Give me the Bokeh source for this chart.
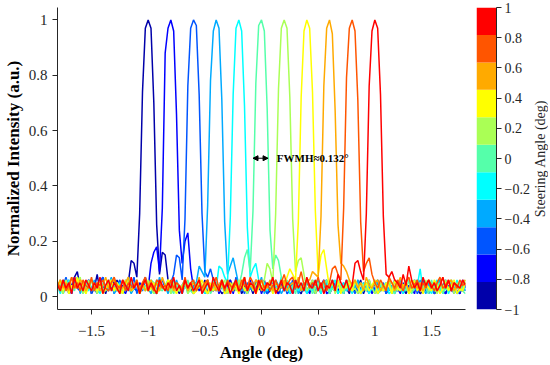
import numpy as np
from bokeh.plotting import figure
from bokeh.layouts import row
from bokeh.models import FixedTicker, Arrow, NormalHead, Label, CustomJSTickFormatter
from bokeh.embed import file_html
from bokeh.resources import INLINE

# steering angles (deg) and jet(11) colours
angles = [-1.0, -0.8, -0.6, -0.4, -0.2, 0.0, 0.2, 0.4, 0.6, 0.8, 1.0]
colors = ["#0000AA", "#0000FF", "#0055FF", "#00AAFF", "#00FFFF", "#55FFAA",
          "#AAFF55", "#FFFF00", "#FFAA00", "#FF5500", "#FF0000"]
step = 0.025  # angular sample spacing (deg)

# measured normalized intensity (x100), sampled every 0.025 deg
i_m10 = [3,6,2,5,1,4,7,9,3,5,2,6,1,3,8,2,4,1,5,3,2,6,2,4,3,
         5,13,12,7,30,74,97,100,97,70,26,8,16,15,6,
         2,5,3,1,4,6,2,3,1,5,3,2,6,1,4,2,5,3,1,2,4,6,2,3,5,1,3,2,4,1,
         5,3,2,6,1,2,4,3,1,5,2,4,1,3,6,2,1,4,3,2,5,1,3,2,4,6,1,3,2,5,
         2,4,3,1,5,2,3,6,1,4,3,2,5,1,3,4,2,6,1,3,2,5,3,1,4,2,6,3,1,2,
         4,3,5,1,2,6,3,1,4,2,3,5,1,4,2]
i_m08 = [4,2,6,3,5,1,7,3,2,5,4,6,2,3,1,5,7,2,4,3,6,2,5,3,1,4,6,3,2,5,4,7,3,
         12,16,18,9,32,88,97,100,96,66,24,12,20,23,10,
         3,5,2,4,1,6,3,2,5,1,4,3,2,6,1,5,2,3,4,1,6,2,3,5,1,4,2,3,6,2,
         1,5,3,2,4,1,3,6,2,4,3,1,5,2,3,4,6,1,2,5,3,2,4,1,6,3,2,5,1,3,
         4,2,6,1,3,5,2,4,1,3,2,6,3,1,5,2,4,3,1,6,2,3,5,1,4,2,3,6,2,1,
         4,3,5,2,1,6,3]
i_m06 = [5,2,4,7,3,1,5,6,2,4,3,6,1,5,2,4,7,3,2,5,1,4,6,3,2,5,3,7,1,4,
         2,6,3,5,2,1,4,6,3,2,5,
         8,15,14,6,28,76,97,100,98,73,30,9,7,10,6,
         2,4,6,3,1,5,2,7,3,4,1,5,3,2,6,4,2,5,1,3,6,2,4,3,5,1,2,6,3,4,
         2,5,1,3,6,2,4,1,5,3,2,6,4,1,3,5,2,4,3,1,6,2,5,3,1,4,2,6,3,5,
         1,3,4,2,5,6,1,3,2,4,5,1,3,6,2,4,3,1,5,2,4,6,2,3,1,5,3,2,4]
i_m04 = [3,5,1,4,6,2,3,7,1,5,2,4,3,6,1,5,2,3,4,7,1,3,5,2,6,4,1,3,5,2,
         4,6,3,1,5,2,7,3,4,1,5,2,6,3,1,4,2,5,3,
         5,11,9,7,33,78,96,100,97,71,27,8,11,14,9,
         4,2,6,1,3,5,2,4,7,1,3,5,2,6,4,1,3,2,5,4,6,1,3,2,5,3,4,1,6,2,
         3,5,1,4,2,6,3,1,5,2,4,3,6,1,2,5,3,4,1,6,2,3,5,2,4,1,3,6,2,5,
         1,4,3,2,6,3,1,5,4,2,3,6,1,4,2,5,3,1,2,4,5]
i_m02 = [4,1,5,3,6,2,4,7,3,1,5,2,6,4,3,1,5,2,4,6,3,2,5,1,4,7,2,3,6,1,
         4,2,5,3,1,6,2,4,3,5,1,6,3,2,4,5,1,3,6,2,4,3,1,5,2,6,3,
         11,10,7,5,29,73,97,100,96,69,25,7,10,12,6,
         3,5,2,6,1,4,3,7,2,5,1,3,6,2,4,5,1,3,2,6,4,1,5,3,2,4,6,1,3,5,
         2,4,1,6,3,2,5,4,1,3,6,2,4,3,5,1,2,6,3,4,1,5,2,3,6,4,10,2,5,3,
         1,4,6,2,3,5,1,4,2,6,3,5,2]
i_p00 = [2,5,3,6,1,4,2,7,3,5,1,4,6,2,3,5,1,3,4,6,2,5,3,1,4,2,6,3,5,1,
         3,4,2,6,5,1,3,2,4,6,3,1,5,2,4,3,6,2,1,5,3,4,2,6,1,3,5,2,4,1,
         6,3,2,5,4,
         8,14,17,9,31,77,98,100,96,68,24,10,15,13,7,
         3,6,2,4,1,5,3,2,6,4,1,3,5,2,4,6,1,3,2,5,4,1,6,3,2,5,3,1,4,2,
         6,3,5,1,2,4,3,6,2,1,5,3,4,2,6,1,3,5,2,4,3,1,6,2,5,4,1,3,2,6,
         4,3,5,2,1]
i_p02 = [5,3,1,6,2,4,3,5,7,1,3,6,2,4,1,5,3,2,6,4,2,5,1,3,4,6,2,3,5,1,
         4,2,6,3,1,5,2,4,3,6,1,5,3,2,4,6,1,3,5,2,6,4,2,1,3,5,3,2,4,6,
         1,3,5,2,6,4,3,1,5,2,4,6,3,
         6,12,10,5,30,75,97,100,97,72,28,9,13,14,8,
         2,4,6,1,3,5,2,4,3,6,1,5,3,2,4,6,2,3,1,5,4,2,6,3,1,4,5,2,3,6,
         1,4,2,5,3,6,1,2,4,3,5,1,6,2,4,3,1,5,2,6,3,4,1,5,2,3,6]
i_p04 = [3,6,2,5,1,4,3,7,2,5,1,4,6,3,2,5,1,3,4,6,2,5,3,1,6,4,2,3,5,1,
         4,6,2,3,5,1,3,4,2,6,5,3,1,4,2,6,3,5,1,2,4,6,3,1,5,2,4,3,6,1,
         2,5,3,4,1,6,2,3,5,4,1,3,6,2,4,5,1,3,2,6,4,
         7,10,8,6,27,72,96,100,97,74,31,8,15,17,10,
         3,5,2,6,1,4,3,5,2,6,4,1,3,5,2,4,6,1,3,2,5,4,1,6,3,2,4,5,1,3,
         6,2,4,1,5,3,2,6,4,1,3,5,2,4,6,1,3,2,5]
i_p06 = [4,6,3,5,2,7,4,3,6,5,2,4,6,3,5,2,4,7,3,5,6,2,4,3,5,7,2,4,6,3,
         5,2,4,6,3,5,2,7,4,3,6,2,5,4,3,6,2,4,5,3,7,2,4,6,3,5,2,4,6,3,
         5,4,2,6,3,5,7,2,4,3,6,5,2,4,3,6,2,5,4,3,6,2,4,5,3,7,2,4,6,
         6,9,8,7,29,76,97,100,95,67,26,12,11,9,6,
         4,6,3,5,2,7,4,3,5,6,2,4,3,6,5,2,4,7,3,5,2,6,4,3,5,2,4,6,3,5,
         2,4,7,3,5,6,2,4,3,5,6]
i_p08 = [5,3,6,2,4,7,3,5,2,6,4,3,7,2,5,4,6,3,2,5,7,4,3,6,2,5,4,3,6,2,
         5,7,3,4,2,6,5,3,4,2,6,3,5,4,2,7,3,5,6,2,4,3,5,6,2,4,7,3,5,2,
         6,4,3,5,2,6,4,3,7,5,2,4,6,3,5,2,4,6,3,5,8,4,6,7,3,5,9,4,6,3,
         5,4,7,3,6,2,5,
         10,11,8,6,32,79,97,100,96,71,27,9,12,14,8,
         5,3,6,4,2,7,5,3,6,4,2,5,7,3,4,6,2,5,3,6,4,2,5,7,3,4,6,2,5,3,
         6,4,5]
i_p10 = [4,2,6,3,5,1,7,3,5,2,6,4,2,5,3,7,1,4,6,2,5,3,1,6,4,2,7,3,5,1,
         4,6,2,5,3,1,6,4,2,5,3,7,2,4,1,6,3,5,2,4,6,1,3,5,2,7,4,2,6,3,
         5,1,4,6,2,3,7,2,5,4,1,6,3,2,5,4,7,1,3,6,2,5,4,1,6,3,5,2,7,4,
         3,6,2,5,1,4,3,6,2,8,5,3,6,2,4,
         12,13,9,6,30,76,96,100,97,73,29,8,7,9,6,
         5,3,8,4,11,6,3,5,2,7,4,6,3,5,2,4,7,3,6,2,5,4,3,6,4]
series = [i_m10, i_m08, i_m06, i_m04, i_m02, i_p00, i_p02, i_p04, i_p06, i_p08, i_p10]

x_ticks = [-1.5, -1.0, -0.5, 0.0, 0.5, 1.0, 1.5]
y_ticks = [0.0, 0.2, 0.4, 0.6, 0.8, 1.0]
cb_ticks = [-1.0, -0.8, -0.6, -0.4, -0.2, 0.0, 0.2, 0.4, 0.6, 0.8, 1.0]

FONT = "Liberation Serif"
AX = "#262626"
fmt_code = "var s = Math.abs(tick).toString(); return (tick < -1e-9 ? '\u2212' : '') + s;"
TOP = 7
BOTTOM = 45

p = figure(frame_width=408, frame_height=302, x_range=(-1.8, 1.8), y_range=(-0.047, 1.045),
           output_backend="svg", toolbar_location=None,
           min_border_left=51, min_border_right=4, min_border_top=TOP, min_border_bottom=BOTTOM)
p.xgrid.visible = False
p.ygrid.visible = False
p.outline_line_color = None

for ang, col, vals in zip(angles, colors, series):
    v = np.array(vals, dtype=float) / 100.0
    k = int(np.argmax(v))
    x = ang + step * (np.arange(len(v)) - k)
    p.line(x, v, line_color=col, line_width=1.5)

for ax, ticks in ((p.xaxis[0], x_ticks), (p.yaxis[0], y_ticks)):
    ax.ticker = FixedTicker(ticks=ticks)
    ax.formatter = CustomJSTickFormatter(code=fmt_code)
    ax.major_tick_in = 0
    ax.major_tick_out = 5
    ax.minor_tick_out = 0
    ax.minor_tick_in = 0
    ax.axis_line_color = AX
    ax.major_tick_line_color = AX
    ax.major_label_text_font = FONT
    ax.major_label_text_font_size = "15px"
    ax.major_label_text_color = AX
    ax.axis_label_text_font = FONT
    ax.axis_label_text_font_size = "17px"
    ax.axis_label_text_font_style = "bold"
    ax.axis_label_text_color = "#000000"

p.xaxis.axis_label = "Angle (deg)"
p.yaxis.axis_label = "Normalized Intensity (a.u.)"
p.xaxis.major_label_standoff = 11
p.xaxis.axis_label_standoff = 4
p.yaxis.major_label_standoff = 5
p.yaxis.axis_label_standoff = 3

p.add_layout(Arrow(start=NormalHead(size=5, fill_color="black", line_color="black"),
                   end=NormalHead(size=5, fill_color="black", line_color="black"),
                   x_start=-0.075, y_start=0.5, x_end=0.058, y_end=0.5,
                   line_color="black", line_width=1))
p.add_layout(Label(x=0.135, y=0.5, text="FWMH\u22480.132\u00b0", text_font=FONT,
                   text_font_size="11px", text_font_style="bold",
                   text_baseline="middle", text_align="left", text_color="black"))

# colour bar
edges = np.linspace(-1.0, 1.0, len(colors) + 1)
cb = figure(frame_width=20, frame_height=302, x_range=(0, 1), y_range=(-1, 1),
            output_backend="svg", toolbar_location=None, y_axis_location="right",
            min_border_left=7, min_border_right=30, min_border_top=TOP, min_border_bottom=BOTTOM)
cb.quad(left=0, right=1, bottom=edges[:-1], top=edges[1:], fill_color=colors, line_color=None)
cb.xaxis.visible = False
cb.xgrid.visible = False
cb.ygrid.visible = False
cb.outline_line_color = None
ya = cb.yaxis[0]
ya.ticker = FixedTicker(ticks=cb_ticks)
ya.formatter = CustomJSTickFormatter(code=fmt_code)
ya.major_tick_in = 0
ya.major_tick_out = 5
ya.minor_tick_in = 0
ya.minor_tick_out = 0
ya.axis_line_color = AX
ya.major_tick_line_color = AX
ya.major_label_text_font = FONT
ya.major_label_text_font_size = "14px"
ya.major_label_text_color = AX
ya.major_label_standoff = 3

# colour bar title (vertical, reading upwards)
lab = figure(frame_width=16, frame_height=302, x_range=(0, 1), y_range=(-1, 1),
             output_backend="svg", toolbar_location=None,
             min_border_left=0, min_border_right=0, min_border_top=TOP, min_border_bottom=BOTTOM)
lab.xaxis.visible = False
lab.yaxis.visible = False
lab.xgrid.visible = False
lab.ygrid.visible = False
lab.outline_line_color = None
lab.add_layout(Label(x=0.5, y=0.0, text="Steering Angle (deg)", angle=np.pi / 2,
                     text_font=FONT, text_font_size="14px", text_color=AX,
                     text_align="center", text_baseline="middle"))

layout = row(p, cb, lab)
open("out.html", "w").write(file_html(layout, INLINE))
